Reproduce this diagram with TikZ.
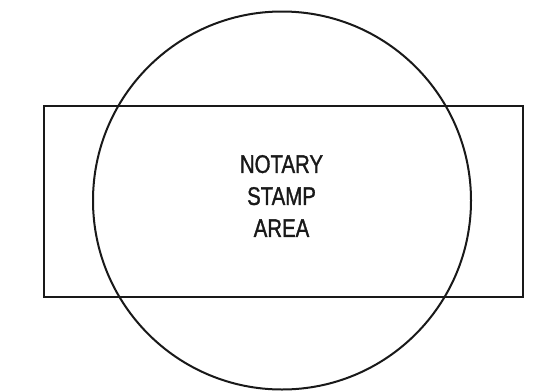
\documentclass[tikz,border=0pt]{standalone}
\usepackage{fontspec}
\newfontfamily\condsans[FakeStretch=0.8,FakeBold=1.2]{Liberation Sans}
\tikzset{
  outline/.style={draw=black!90, line width=2pt},
  labeltext/.style={align=center, text=black!90, font=\condsans\fontsize{25.5}{32}\selectfont, inner sep=0pt}
}
\begin{document}
\begin{tikzpicture}[x=1pt,y=-1pt]
\useasboundingbox (0,0) rectangle (553,391);
\fill[white] (0,0) rectangle (553,391);
\node[outline, rectangle, minimum width=479pt, minimum height=191pt, inner sep=0pt] (box) at (283.5,201.5) {};
\node[outline, circle, minimum size=378pt, inner sep=0pt] (seal) at (282,200.5) {};
\node[labeltext] (label) at (281.5,196) {NOTARY\\STAMP\\AREA};
\end{tikzpicture}
\end{document}
